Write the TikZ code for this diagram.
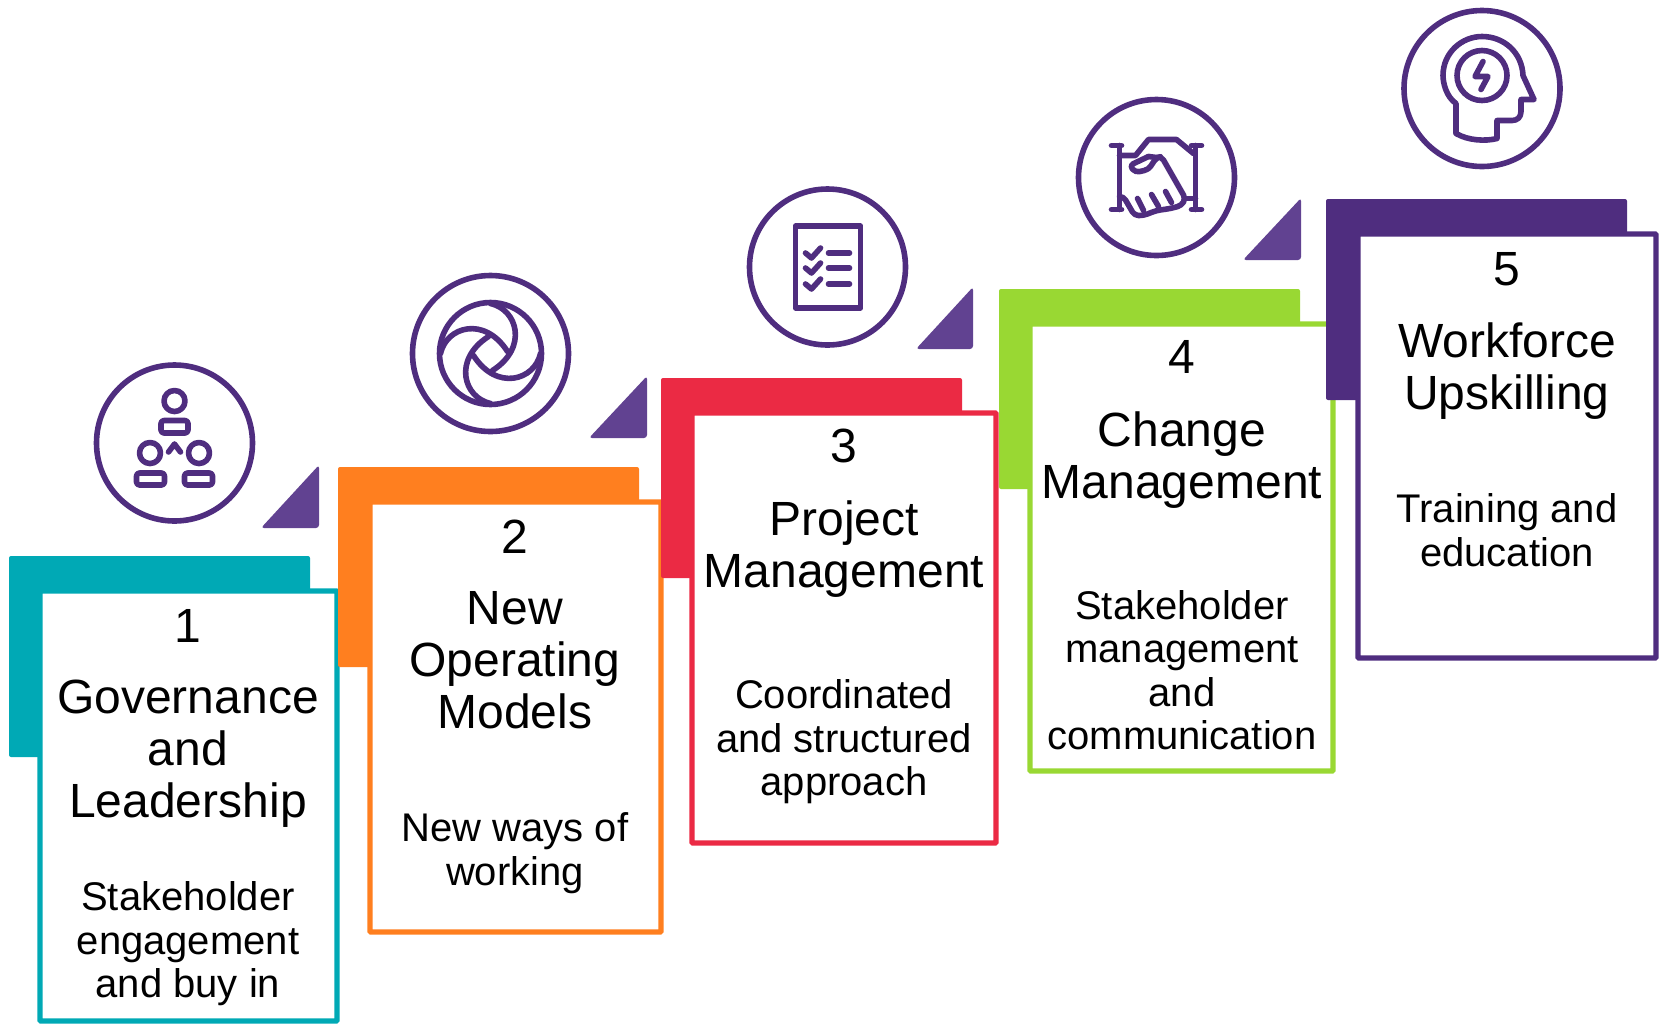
\documentclass[tikz,border=0pt]{standalone}
\usepackage{xcolor}
\usepackage{fontspec}
\setmainfont{Liberation Sans}

\definecolor{stepteal}{HTML}{00A9B5}
\definecolor{steporange}{HTML}{FF7F1F}
\definecolor{stepred}{HTML}{EB2A44}
\definecolor{stepgreen}{HTML}{99D833}
\definecolor{steppurple}{HTML}{4F2D7F}
\definecolor{wedgepurple}{HTML}{614291}

\tikzset{
  tab/.style={rounded corners=1pt},
  card/.style={line width=2.7pt,fill=white,rounded corners=0.5pt},
  wedge/.style={fill=wedgepurple,rounded corners=1.5pt},
  ring/.style={draw=steppurple,line width=2.8pt,circle,minimum size=78pt,inner sep=0pt},
  glyph/.style={draw=steppurple,line width=2.8pt,line join=round,line cap=round},
  num/.style={font=\fontsize{24}{26}\selectfont,inner sep=0pt},
  title/.style={font=\fontsize{24}{26}\selectfont,align=center,inner sep=0pt},
  sub/.style={font=\fontsize{20}{21.7}\selectfont,align=center,inner sep=0pt},
}

\begin{document}
\begin{tikzpicture}[x=0.5pt,y=-0.5pt]
	\useasboundingbox (0,0) rectangle (1660,1024);

	% tabs and cards
	\fill[tab,stepteal] (9,556) rectangle (310,757);
	\draw[card,draw=stepteal] (40,591) rectangle (337,1021);
	\fill[tab,steporange] (338,467) rectangle (639,667);
	\draw[card,draw=steporange] (370,502) rectangle (661,932);
	\fill[tab,stepred] (661,378) rectangle (962,578);
	\draw[card,draw=stepred] (692,413) rectangle (996,843);
	\fill[tab,stepgreen] (999,289) rectangle (1300,489);
	\draw[card,draw=stepgreen] (1030,324) rectangle (1333,771);
	\fill[tab,steppurple] (1326,199) rectangle (1627,400);
	\draw[card,draw=steppurple] (1358,234) rectangle (1656,658);

	% wedges
	\fill[wedge] (261,528) -- (319,465) -- (319,528) -- cycle;
	\fill[wedge] (589,438) -- (647,376) -- (647,438) -- cycle;
	\fill[wedge] (916,349) -- (973,287) -- (973,349) -- cycle;
	\fill[wedge] (1243,260) -- (1301,198) -- (1301,260) -- cycle;

	% texts
	\node(num1)[num] at (188,626) {1};
	\node(title1)[title] at (188,754) {Governance\\and\\Leadership};
	\node(sub1)[sub] at (188,944) {Stakeholder\\engagement\\and buy in};
	\node(num2)[num] at (515,537) {2};
	\node(title2)[title] at (515,660) {New\\Operating\\Models};
	\node(sub2)[sub] at (515,853) {New ways of\\working};
	\node(num3)[num] at (844,446) {3};
	\node(title3)[title] at (844,549) {Project\\Management};
	\node(sub3)[sub] at (844,742) {Coordinated\\and structured\\approach};
	\node(num4)[num] at (1182,357) {4};
	\node(title4)[title] at (1182,460) {Change\\Management};
	\node(sub4)[sub] at (1182,670) {Stakeholder\\management\\and\\communication};
	\node(num5)[num] at (1507,269) {5};
	\node(title5)[title] at (1507,371) {Workforce\\Upskilling};
	\node(sub5)[sub] at (1507,530) {Training and\\education};

	% rings
	\node(ring1)[ring] at (174.5,443) {};
	\node(ring2)[ring] at (490.5,353.5) {};
	\node(ring3)[ring] at (827.5,267) {};
	\node(ring4)[ring] at (1156.5,177.5) {};
	\node(ring5)[ring] at (1482,88.5) {};

	% people
	\begin{scope}[shift={(ring1.center)}]
		\draw[glyph] (0,-42) circle (10.5);
		\draw[glyph,rounded corners=1.5pt] (-13.5,-22.5) rectangle (13.5,-10);
		\draw[glyph] (-24.5,10) circle (10.5);
		\draw[glyph] (24.5,10) circle (10.5);
		\draw[glyph,rounded corners=1.5pt] (-38,30) rectangle (-10,42);
		\draw[glyph,rounded corners=1.5pt] (10,30) rectangle (38,42);
		\draw[glyph] (-6,9) -- (0,1) -- (6,9);
	\end{scope}

	% aperture
	\begin{scope}[shift={(ring2.center)}]
		\draw[glyph] (0,0) circle (51);
		\foreach \a in {0,90,180,270}
			\draw[glyph,rotate=\a] (0,-50) .. controls (27,-44) and (38,-6) .. (2,17);
	\end{scope}

	% checklist
	\begin{scope}[shift={(ring3.center)}]
		\draw[glyph] (-32,-41) rectangle (33,41);
		\foreach \y in {-14,1,17} {
			\draw[glyph] (-22,\y) -- (-16,\y+5) -- (-7,\y-5);
			\draw[glyph] (1,\y) -- (22,\y);
		}
	\end{scope}

	% handshake
	\begin{scope}[shift={(ring4.center)}]
		\draw[glyph] (-45,-32) -- (-35,-32) (-37,-32) -- (-37,32) (-45,32) -- (-35,32);
		\draw[glyph] (35,-32) -- (45,-32) (39,-32) -- (39,32) (35,32) -- (45,32);
		\draw[glyph] (-37,-22) -- (-21,-22) -- (-8,-38) -- (20,-38) -- (37,-24);
		\draw[glyph,rounded corners=2pt] (-8,-21) -- (-27,-12) -- (-21,-5) -- (-8,-8) -- (0,-20) -- (5,-21) -- (29,21) -- (25,28) -- (14,31) -- (0,33) -- (-13,38) -- (-22,38) -- (-33,19) -- (-37,19);
		\draw[glyph] (29,21) -- (39,21);
		\draw[glyph] (-19,21) -- (-13,33) (-5,17) -- (2,29) (9,14) -- (15,25);
		\draw[glyph] (-8,-21) -- (0,-20);
	\end{scope}

	% head
	\begin{scope}[shift={(ring5.center)}]
		\draw[glyph] (-26,45) -- (-26,15) .. controls (-36,8) and (-39,-6) .. (-39,-13)
			.. controls (-39,-36) and (-20,-52) .. (0,-52)
			.. controls (22,-52) and (40,-36) .. (41,-13)
			-- (52,11) -- (39,11) -- (39,23) .. controls (39,29) and (35,32) .. (30,32)
			-- (15,32) -- (15,50) .. controls (3,53) and (-14,52) .. (-26,45);
		\draw[glyph] (0,-13) circle (25);
		\draw[glyph] (1,-27) -- (-7,-12) -- (6,-12) -- (-1,1);
	\end{scope}
\end{tikzpicture}
\end{document}
